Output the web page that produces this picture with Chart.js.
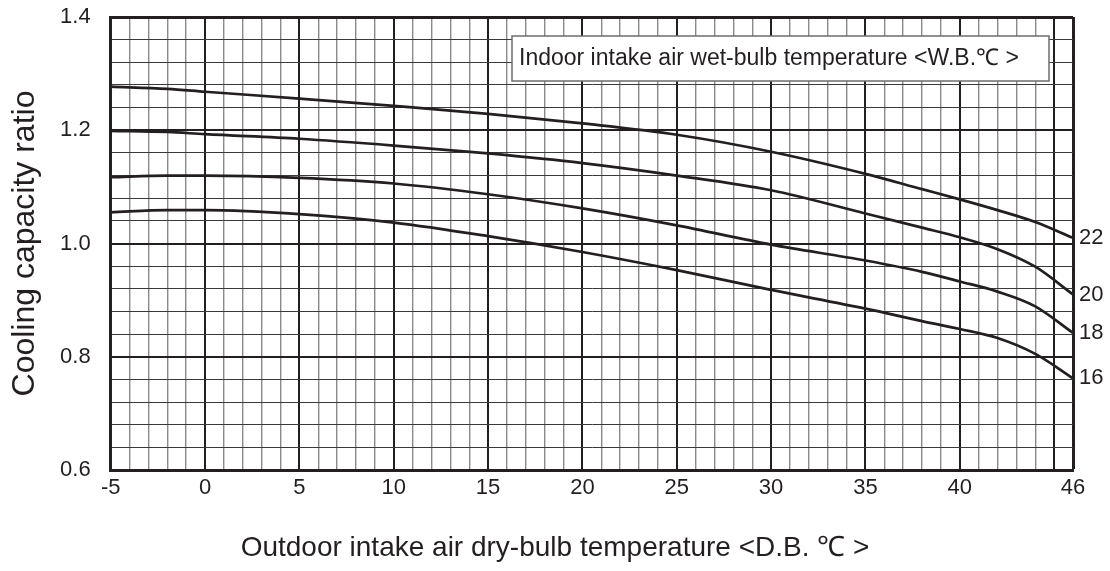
<!DOCTYPE html>
<html>
<head>
<meta charset="utf-8">
<script src="https://cdn.jsdelivr.net/npm/chart.js@4/dist/chart.umd.min.js"></script>
<style>
  html, body { margin: 0; padding: 0; background: #fff; }
  #wrap { width: 1110px; height: 571px; position: relative; }
</style>
</head>
<body>
<div id="wrap"><canvas id="capChart" width="1110" height="571"></canvas></div>
<script>
// outdoor dry-bulb temperature (x) and cooling capacity ratio per indoor wet-bulb curve
const dbTemps = [-5, -2, 0, 5, 10, 15, 20, 25, 30, 35, 38, 40, 42, 44, 46];
const wb22 = [1.277, 1.273, 1.268, 1.256, 1.243, 1.229, 1.212, 1.192, 1.162, 1.123, 1.096, 1.078, 1.059, 1.038, 1.010];
const wb20 = [1.199, 1.197, 1.193, 1.185, 1.173, 1.159, 1.142, 1.120, 1.094, 1.053, 1.028, 1.011, 0.990, 0.959, 0.910];
const wb18 = [1.117, 1.120, 1.120, 1.116, 1.106, 1.087, 1.062, 1.032, 0.998, 0.970, 0.950, 0.933, 0.915, 0.889, 0.842];
const wb16 = [1.055, 1.059, 1.059, 1.052, 1.037, 1.013, 0.985, 0.953, 0.918, 0.885, 0.863, 0.849, 0.833, 0.805, 0.762];
const curveLabels = ['22', '20', '18', '16'];
const xLabelTicks = [-5, 0, 5, 10, 15, 20, 25, 30, 35, 40, 46];

const FONT = '"Liberation Sans", Arial, Helvetica, sans-serif';
const INK = '#231f20';

function toPoints(vals) {
  return vals.map((v, i) => ({ x: dbTemps[i], y: v }));
}

const series = [wb22, wb20, wb18, wb16];

// box, curve end labels and x title
const extras = {
  id: 'extras',
  afterDraw(chart) {
    const ctx = chart.ctx;
    const xs = chart.scales.x, ys = chart.scales.y;
    ctx.save();

    // legend box
    ctx.fillStyle = '#fff';
    ctx.fillRect(512, 36, 537, 45);
    ctx.strokeStyle = '#6d6d6d';
    ctx.lineWidth = 1.5;
    ctx.strokeRect(512, 36, 537, 45);
    ctx.fillStyle = INK;
    ctx.font = '23px ' + FONT;
    ctx.textBaseline = 'middle';
    ctx.textAlign = 'left';
    ctx.fillText('Indoor intake air wet-bulb temperature <W.B.\u2103 >', 519, 59);

    // labels at the end of each curve
    ctx.font = '22px ' + FONT;
    series.forEach((vals, i) => {
      const y = ys.getPixelForValue(vals[vals.length - 1]);
      ctx.fillText(curveLabels[i], xs.right + 6, y);
    });

    // x axis title, centred on the page
    ctx.font = '28px ' + FONT;
    ctx.textAlign = 'center';
    ctx.fillText('Outdoor intake air dry-bulb temperature <D.B. \u2103 >', chart.width / 2, 548);
    ctx.restore();
  }
};

const isMajorY = v => Math.abs(v * 5 - Math.round(v * 5)) < 1e-6;

new Chart(document.getElementById('capChart'), {
  type: 'line',
  data: {
    datasets: series.map((vals, i) => ({
      label: curveLabels[i],
      data: toPoints(vals),
      borderColor: INK,
      borderWidth: 2.7,
      pointRadius: 0,
      fill: false,
      cubicInterpolationMode: 'monotone'
    }))
  },
  options: {
    responsive: false,
    animation: false,
    layout: { padding: { top: 17, right: 37, left: 0, bottom: 0 } },
    plugins: {
      legend: { display: false },
      tooltip: { enabled: false }
    },
    scales: {
      x: {
        type: 'linear',
        min: -5,
        max: 46,
        afterFit(scale) {
          scale.height = 101;
          scale.paddingLeft = 0;
          scale.paddingRight = 0;
        },
        ticks: {
          stepSize: 1,
          autoSkip: false,
          maxRotation: 0,
          padding: 5,
          color: INK,
          font: { family: FONT, size: 22 },
          callback: v => xLabelTicks.includes(v) ? String(v) : ''
        },
        grid: {
          drawTicks: false,
          color: c => (c.tick.value % 5 === 0 || c.tick.value === 46) ? INK : '#8a8a8a',
          lineWidth: c => c.tick.value === 46 ? 3 : (c.tick.value % 5 === 0 ? 2 : 1.4)
        },
        border: { color: INK, width: 3 }
      },
      y: {
        min: 0.6,
        max: 1.4,
        afterFit(scale) {
          scale.width = 110.7;
          scale.paddingTop = 0;
          scale.paddingBottom = 0;
        },
        title: {
          display: true,
          text: 'Cooling capacity ratio',
          color: INK,
          font: { family: FONT, size: 32 },
          padding: { top: 6, bottom: 0 }
        },
        ticks: {
          stepSize: 0.04,
          autoSkip: false,
          padding: 20,
          color: INK,
          font: { family: FONT, size: 22 },
          callback: v => isMajorY(v) ? v.toFixed(1) : ''
        },
        grid: {
          drawTicks: false,
          color: c => isMajorY(c.tick.value) ? INK : '#3a3a3a',
          lineWidth: c => c.tick.value > 1.39 ? 3 : (isMajorY(c.tick.value) ? 2 : 1)
        },
        border: { color: INK, width: 3 }
      }
    }
  },
  plugins: [extras]
});
</script>
</body>
</html>
